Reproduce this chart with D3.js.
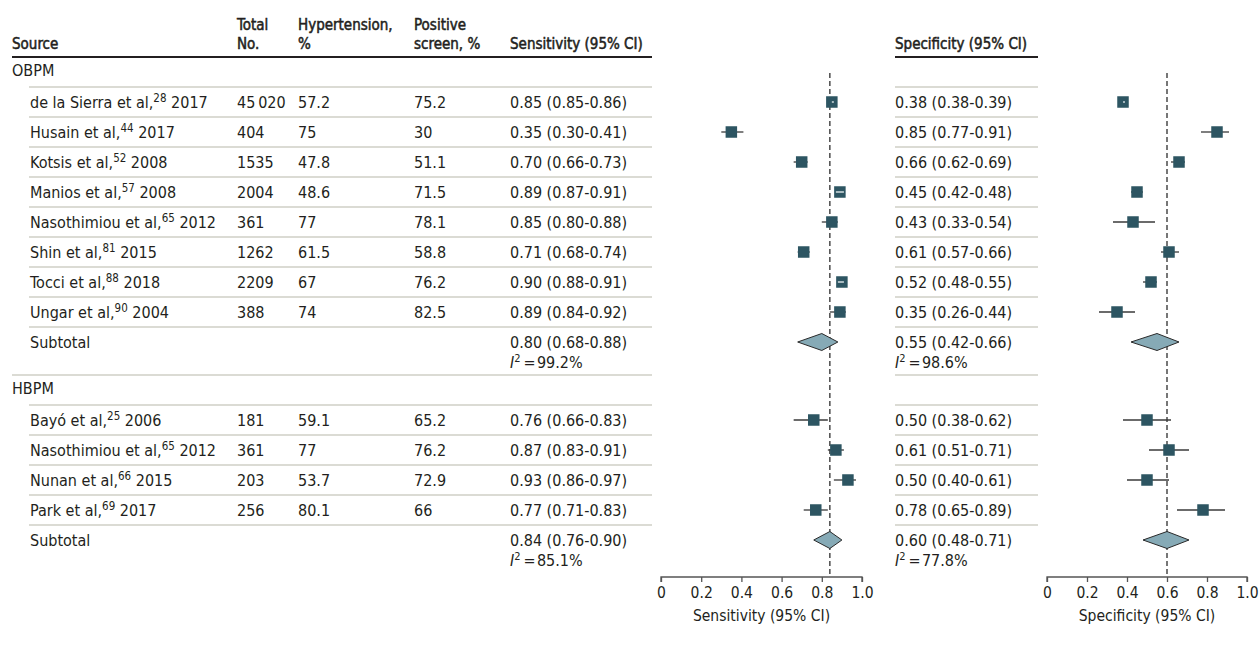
<!DOCTYPE html>
<html>
<head>
<meta charset="utf-8">
<script src="https://cdn.jsdelivr.net/npm/d3@7"></script>
<style>
  html, body { margin: 0; padding: 0; background: #fff; }
  svg { display: block; }
</style>
</head>
<body>
<svg id="chart" width="1259" height="646"></svg>
<script>
// ---------------- DATA ----------------
const groupNames = ["OBPM", "HBPM"];
const studyGroup = [0, 0, 0, 0, 0, 0, 0, 0, 1, 1, 1, 1];
const studyNames = ["de la Sierra et al,", "Husain et al,", "Kotsis et al,", "Manios et al,", "Nasothimiou et al,", "Shin et al,", "Tocci et al,", "Ungar et al,",
                    "Bayó et al,", "Nasothimiou et al,", "Nunan et al,", "Park et al,"];
const studyRefs = ["28", "44", "52", "57", "65", "81", "88", "90", "25", "65", "66", "69"];
const studyYears = ["2017", "2017", "2008", "2008", "2012", "2015", "2018", "2004", "2006", "2012", "2015", "2017"];
const totalN = ["45\u2009020", "404", "1535", "2004", "361", "1262", "2209", "388", "181", "361", "203", "256"];
const hypertensionPct = ["57.2", "75", "47.8", "48.6", "77", "61.5", "67", "74", "59.1", "77", "53.7", "80.1"];
const positiveScreenPct = ["75.2", "30", "51.1", "71.5", "78.1", "58.8", "76.2", "82.5", "65.2", "76.2", "72.9", "66"];

const sensEst = [0.85, 0.35, 0.70, 0.89, 0.85, 0.71, 0.90, 0.89, 0.76, 0.87, 0.93, 0.77];
const sensLo  = [0.85, 0.30, 0.66, 0.87, 0.80, 0.68, 0.88, 0.84, 0.66, 0.83, 0.86, 0.71];
const sensHi  = [0.86, 0.41, 0.73, 0.91, 0.88, 0.74, 0.91, 0.92, 0.83, 0.91, 0.97, 0.83];

const specEst = [0.38, 0.85, 0.66, 0.45, 0.43, 0.61, 0.52, 0.35, 0.50, 0.61, 0.50, 0.78];
const specLo  = [0.38, 0.77, 0.62, 0.42, 0.33, 0.57, 0.48, 0.26, 0.38, 0.51, 0.40, 0.65];
const specHi  = [0.39, 0.91, 0.69, 0.48, 0.54, 0.66, 0.55, 0.44, 0.62, 0.71, 0.61, 0.89];

const subSensEst = [0.80, 0.84];
const subSensLo  = [0.68, 0.76];
const subSensHi  = [0.88, 0.90];
const subSensI2  = ["99.2", "85.1"];
const subSpecEst = [0.55, 0.60];
const subSpecLo  = [0.42, 0.48];
const subSpecHi  = [0.66, 0.71];
const subSpecI2  = ["98.6", "77.8"];

const refSens = 0.84;
const refSpec = 0.60;
const axisTicks = [0, 0.2, 0.4, 0.6, 0.8, 1.0];
const headerLabels = {
  source: ["Source"], total: ["Total", "No."], hyp: ["Hypertension,", "%"],
  pos: ["Positive", "screen, %"], sens: ["Sensitivity (95% CI)"], spec: ["Specificity (95% CI)"]
};
const axisTitles = ["Sensitivity (95% CI)", "Specificity (95% CI)"];

// ---------------- LAYOUT ----------------
const FONT = "'DejaVu Sans Condensed', 'Liberation Sans Narrow', sans-serif";
const TXT = "#231f20";
const SQ = "#2d5562";
const DIA = "#86aab6";
const SEP = "#cfcfc6";
const col = { source: 12, indent: 30, total: 237, hyp: 298, pos: 414, sens: 510, spec: 895 };
const leftLineEnd = 652, specLineStart = 895, specLineEnd = 1038;
const headerLineY = 57;
const axisY = 577;

// Build row list in "units"
const rows = [];
let u = 0;
groupNames.forEach((g, gi) => {
  rows.push({ type: "group", gi, top: u, h: 1 }); u += 1;
  studyNames.forEach((n, i) => {
    if (studyGroup[i] === gi) { rows.push({ type: "study", i, gi, top: u, h: 1 }); u += 1; }
  });
  rows.push({ type: "subtotal", gi, top: u, h: 1.6 }); u += 1.6;
});
const totalUnits = u;
const y = d3.scaleLinear().domain([0, totalUnits]).range([headerLineY, headerLineY + totalUnits * 30]);

const xSens = d3.scaleLinear().domain([0, 1]).range([661, 862]);
const xSpec = d3.scaleLinear().domain([0, 1]).range([1047, 1247]);
const fmt = d3.format(".2f");
const ciText = (e, l, h) => `${fmt(e)} (${fmt(l)}-${fmt(h)})`;

const svg = d3.select("#chart").attr("font-family", FONT);

// ---------------- HEADER ----------------
const hdr = svg.append("g").attr("font-size", 15).attr("fill", TXT)
  .attr("stroke", TXT).attr("stroke-width", 0.5);
function headerText(x, lines) {
  const base = 49;
  lines.forEach((t, k) => {
    hdr.append("text").attr("x", x).attr("y", base - (lines.length - 1 - k) * 19).text(t);
  });
}
headerText(col.source, headerLabels.source);
headerText(col.total, headerLabels.total);
headerText(col.hyp, headerLabels.hyp);
headerText(col.pos, headerLabels.pos);
headerText(col.sens, headerLabels.sens);
headerText(col.spec, headerLabels.spec);

svg.append("line").attr("x1", col.source).attr("x2", leftLineEnd).attr("y1", headerLineY).attr("y2", headerLineY)
  .attr("stroke", TXT).attr("stroke-width", 2);
svg.append("line").attr("x1", specLineStart).attr("x2", specLineEnd).attr("y1", headerLineY).attr("y2", headerLineY)
  .attr("stroke", TXT).attr("stroke-width", 2);

// ---------------- SEPARATORS ----------------
const sepG = svg.append("g").attr("stroke", SEP).attr("stroke-width", 1.5);
rows.forEach(r => {
  if (r.type === "group" && r.gi === 0) return;
  const yy = y(r.top);
  const x1 = r.type === "group" ? col.source : col.indent - 1;
  sepG.append("line").attr("x1", x1).attr("x2", leftLineEnd).attr("y1", yy).attr("y2", yy);
  sepG.append("line").attr("x1", specLineStart).attr("x2", specLineEnd).attr("y1", yy).attr("y2", yy);
});

// ---------------- TABLE TEXT ----------------
const body = svg.append("g").attr("font-size", 16).attr("fill", TXT);
function i2Text(x, yy, val) {
  const t = body.append("text").attr("x", x).attr("y", yy);
  t.append("tspan").attr("font-style", "italic").text("I");
  t.append("tspan").attr("font-size", 11).attr("dy", -6).text("2");
  t.append("tspan").attr("dy", 6).text("\u2009=\u200a" + val + "%");
}
rows.forEach(r => {
  const cy = y(r.top + 0.5) + 5.5;
  if (r.type === "group") {
    body.append("text").attr("x", col.source).attr("y", cy - 2).text(groupNames[r.gi]);
  } else if (r.type === "study") {
    const i = r.i;
    const t = body.append("text").attr("x", col.indent).attr("y", cy);
    t.append("tspan").text(studyNames[i]);
    t.append("tspan").attr("font-size", 11.5).attr("dy", -6).text(studyRefs[i]);
    t.append("tspan").attr("dy", 6).text(" " + studyYears[i]);
    body.append("text").attr("x", col.total).attr("y", cy).text(totalN[i]);
    body.append("text").attr("x", col.hyp).attr("y", cy).text(hypertensionPct[i]);
    body.append("text").attr("x", col.pos).attr("y", cy).text(positiveScreenPct[i]);
    body.append("text").attr("x", col.sens).attr("y", cy).text(ciText(sensEst[i], sensLo[i], sensHi[i]));
    body.append("text").attr("x", col.spec).attr("y", cy).text(ciText(specEst[i], specLo[i], specHi[i]));
  } else {
    const g = r.gi;
    body.append("text").attr("x", col.indent).attr("y", cy).text("Subtotal");
    body.append("text").attr("x", col.sens).attr("y", cy).text(ciText(subSensEst[g], subSensLo[g], subSensHi[g]));
    body.append("text").attr("x", col.spec).attr("y", cy).text(ciText(subSpecEst[g], subSpecLo[g], subSpecHi[g]));
    i2Text(col.sens, cy + 20, subSensI2[g]);
    i2Text(col.spec, cy + 20, subSpecI2[g]);
  }
});

// ---------------- FOREST PLOTS ----------------
function forest(x, est, lo, hi, sEst, sLo, sHi, refVal, title) {
  const g = svg.append("g");
  // reference dashed line
  g.append("line").attr("x1", x(refVal)).attr("x2", x(refVal)).attr("y1", 73).attr("y2", axisY)
    .attr("stroke", "#4a4a4a").attr("stroke-width", 1.5).attr("stroke-dasharray", "5,3");
  const S = 11.5;
  rows.forEach(r => {
    const cy = y(r.top + 0.5);
    if (r.type === "study") {
      const i = r.i;
      const x0 = x(est[i]) - S / 2, x1 = x(est[i]) + S / 2;
      const inside = x(lo[i]) >= x0 && x(hi[i]) <= x1;
      if (!inside) {
        g.append("line").attr("x1", x(lo[i])).attr("x2", x(hi[i])).attr("y1", cy).attr("y2", cy)
          .attr("stroke", "#3a3a3a").attr("stroke-width", 1.3);
      }
      g.append("rect").attr("x", x0).attr("y", cy - S / 2).attr("width", S).attr("height", S).attr("fill", SQ);
      if (inside) {
        let a = x(lo[i]), b = x(hi[i]);
        if (b - a < 2) { const m = (a + b) / 2; a = m - 1; b = m + 1; }
        g.append("line").attr("x1", a).attr("x2", b).attr("y1", cy).attr("y2", cy)
          .attr("stroke", "#c9d6da").attr("stroke-width", 1.6);
      }
    } else if (r.type === "subtotal") {
      const k = r.gi, h = 8.5;
      const pts = [[x(sLo[k]), cy], [x(sEst[k]), cy - h], [x(sHi[k]), cy], [x(sEst[k]), cy + h]];
      g.append("path").attr("d", "M" + pts.map(p => p.join(",")).join("L") + "Z")
        .attr("fill", DIA).attr("stroke", "#2a2a2a").attr("stroke-width", 1);
    }
  });
  const axis = d3.axisBottom(x).tickValues(axisTicks).tickSize(5).tickPadding(5)
    .tickFormat(d => d === 0 ? "0" : d3.format(".1f")(d));
  const ag = g.append("g").attr("transform", `translate(0,${axisY})`).call(axis);
  ag.attr("font-size", 15.5).attr("font-family", FONT);
  ag.select(".domain").attr("stroke", "#555").attr("stroke-width", 1.3).attr("d", `M${x(0)},5V0H${x(1)}V5`);
  ag.selectAll(".tick line").attr("stroke", "#555").attr("stroke-width", 1.3);
  ag.selectAll(".tick text").attr("fill", TXT);
  g.append("text").attr("x", (x(0) + x(1)) / 2).attr("y", 621).attr("text-anchor", "middle")
    .attr("font-size", 15.5).attr("fill", TXT).text(title);
}
forest(xSens, sensEst, sensLo, sensHi, subSensEst, subSensLo, subSensHi, refSens, axisTitles[0]);
forest(xSpec, specEst, specLo, specHi, subSpecEst, subSpecLo, subSpecHi, refSpec, axisTitles[1]);
</script>
</body>
</html>
